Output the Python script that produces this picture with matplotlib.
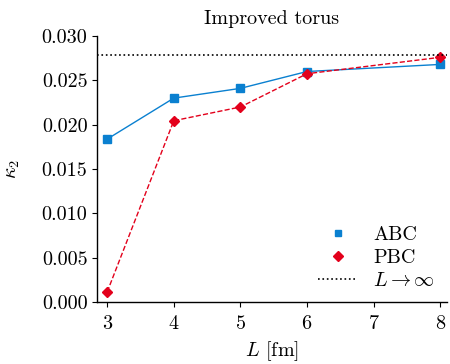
import matplotlib
matplotlib.use("Agg")
import matplotlib.pyplot as plt

plt.rcParams['font.family'] = 'serif'
plt.rcParams['font.serif'] = ['cmr10']
plt.rcParams['mathtext.fontset'] = 'cm'
plt.rcParams['axes.formatter.use_mathtext'] = True
plt.rcParams['font.size'] = 14.5

# data
L_abc = [3, 4, 5, 6, 8]
kappa_abc = [0.01838, 0.0230, 0.0241, 0.0260, 0.0268]
L_pbc = [3, 4, 5, 6, 8]
kappa_pbc = [0.00115, 0.02045, 0.0220, 0.02575, 0.0276]
kappa_inf = 0.0279

fig = plt.figure(figsize=(4.5, 3.64), dpi=100)
ax = fig.add_axes([0.216, 0.170, 0.777, 0.731])

ax.plot(L_abc, kappa_abc, color='#0a80d0', lw=1.0, marker='s', ms=5.5, label='ABC')
ax.plot(L_pbc, kappa_pbc, color='#e3001b', lw=1.0, ls='--', marker='D', ms=5.5, label='PBC')
ax.axhline(kappa_inf, color='black', lw=1.2, ls=':', label=r'$L\to\infty$')

ax.set_xlim(2.85, 8.1)
ax.set_ylim(0.0, 0.030)
ax.set_xticks([3, 4, 5, 6, 7, 8])
ax.set_yticks([0.0, 0.005, 0.010, 0.015, 0.020, 0.025, 0.030])
ax.set_yticklabels(['0.000', '0.005', '0.010', '0.015', '0.020', '0.025', '0.030'])
ax.tick_params(axis='x', pad=6)
ax.spines['top'].set_visible(False)
ax.spines['right'].set_visible(False)
ax.spines['left'].set_linewidth(1.0)
ax.spines['bottom'].set_linewidth(1.0)
ax.set_xlabel(r'$L$ [fm]', labelpad=4)
ax.set_ylabel(r'$\kappa_2$', labelpad=14)
ax.set_title('Improved torus', fontsize=14.5, pad=9)

handles, labels = ax.get_legend_handles_labels()
h = [plt.Line2D([], [], color='#0a80d0', marker='s', ls='none', ms=5),
     plt.Line2D([], [], color='#e3001b', marker='D', ls='none', ms=5),
     handles[2]]
ax.legend(h, labels, loc='lower right', frameon=False, handlelength=1.9,
          labelspacing=0.25, borderaxespad=0.2)

fig.savefig('out.png', dpi=100)
